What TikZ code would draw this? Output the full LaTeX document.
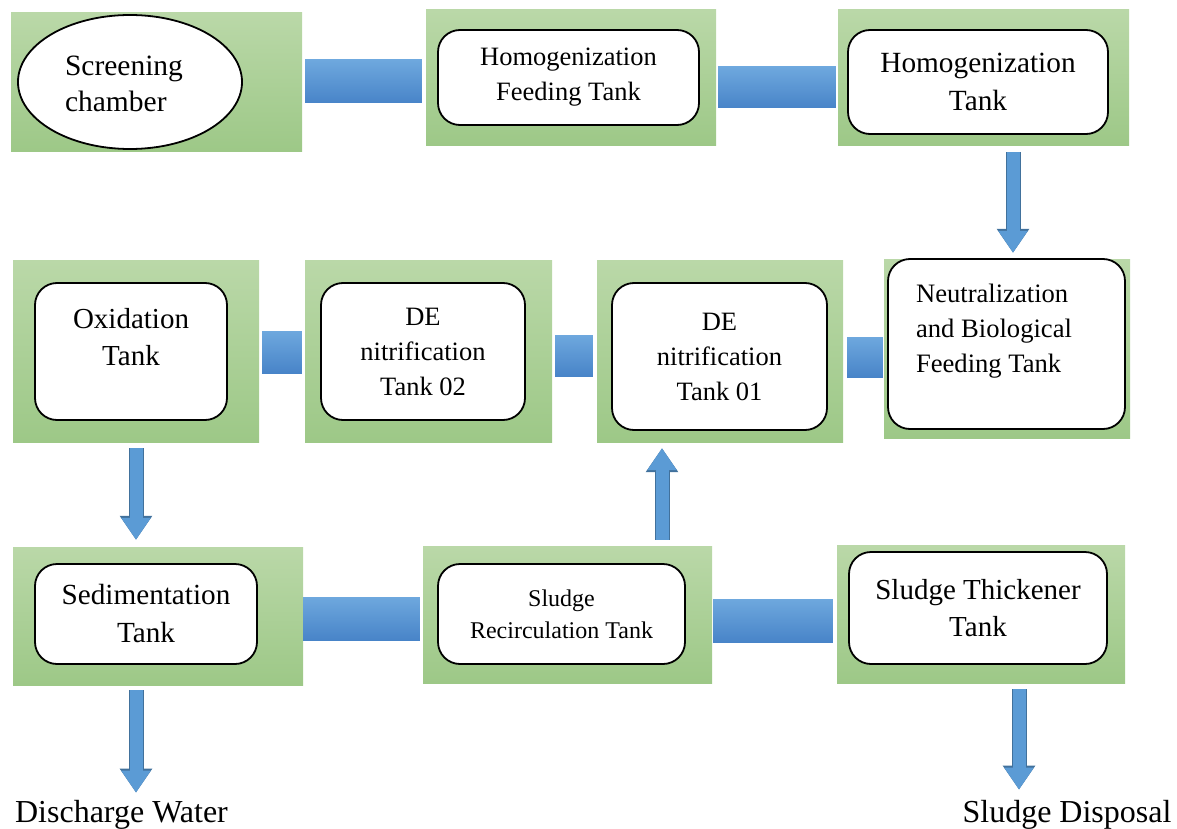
\documentclass[tikz,border=0pt]{standalone}
\usepackage{fontspec}
\setmainfont{Liberation Serif}
\usetikzlibrary{shapes.geometric,arrows.meta}

\definecolor{bedtop}{RGB}{186,216,168}
\definecolor{bedbot}{RGB}{157,200,135}
\definecolor{pipetop}{RGB}{110,168,222}
\definecolor{pipebot}{RGB}{72,132,200}
\definecolor{pipefill}{RGB}{91,155,213}
\definecolor{pipeedge}{RGB}{65,113,156}

\tikzset{
  bed/.style={rectangle, inner sep=0pt, top color=bedtop, bottom color=bedbot},
  tank/.style={rectangle, rounded corners=22pt, draw=black, line width=1.8pt,
    fill=white, inner sep=0pt, align=center},
  flowbar/.style={top color=pipetop, bottom color=pipebot},
  flowdown/.style={line width=13pt, draw=pipefill,
    -{Triangle[width=28pt,length=22pt]},
    preaction={draw=pipeedge, line width=15pt, -{Triangle[width=31pt,length=24pt]}}},
  outlet/.style={inner sep=0pt, anchor=base, font=\fontsize{32}{38}\selectfont},
}

\begin{document}
\begin{tikzpicture}[x=1pt, y=-1pt]
  \useasboundingbox (0,0) rectangle (1177,829);

  % green beds
  \node[bed, minimum width=291, minimum height=139] (screen-bed)  at (156.5,82.5) {};
  \node[bed, minimum width=290, minimum height=136] (homfeed-bed) at (571,78) {};
  \node[bed, minimum width=291, minimum height=136] (homtank-bed) at (983.5,78) {};
  \node[bed, minimum width=246, minimum height=179] (neutral-bed) at (1007,348.5) {};
  \node[bed, minimum width=246, minimum height=182] (denit1-bed)  at (720,351) {};
  \node[bed, minimum width=247, minimum height=182] (denit2-bed)  at (428.5,351) {};
  \node[bed, minimum width=246, minimum height=182] (oxid-bed)    at (136,351) {};
  \node[bed, minimum width=290, minimum height=138] (sedim-bed)   at (158,616) {};
  \node[bed, minimum width=289, minimum height=137] (recirc-bed)  at (567.5,614.5) {};
  \node[bed, minimum width=288, minimum height=138] (thick-bed)   at (981,614) {};

  % tanks
  \node[ellipse, draw=black, line width=1.8pt, fill=white, inner sep=0pt,
    minimum width=224, minimum height=134] (screen) at (130,82) {};
  \node[align=left, inner sep=0pt, font=\fontsize{29.5}{36}\selectfont]
    (screen-txt) at (124,84) {Screening\\chamber};
  \node[tank, minimum width=261, minimum height=95, font=\fontsize{26.5}{35}\selectfont]
    (homfeed) at (568.5,77.5) {Homogenization\\Feeding Tank};
  \node[tank, minimum width=260, minimum height=104, font=\fontsize{29.3}{38}\selectfont]
    (homtank) at (978,82) {Homogenization\\Tank};
  \node[tank, minimum width=237, minimum height=170] (neutral) at (1006.5,344) {};
  \node[align=left, inner sep=0pt, font=\fontsize{26.6}{35}\selectfont]
    (neutral-txt) at (994,331) {Neutralization\\and Biological\\Feeding Tank};
  \node[tank, minimum width=215, minimum height=147, font=\fontsize{26.5}{35}\selectfont]
    (denit1) at (719.5,356.5) {DE\\nitrification\\Tank 01};
  \node[tank, minimum width=204, minimum height=137, font=\fontsize{26.5}{35}\selectfont]
    (denit2) at (423,351.5) {DE\\nitrification\\Tank 02};
  \node[tank, minimum width=192, minimum height=137] (oxid) at (131,351.5) {};
  \node[align=center, inner sep=0pt, font=\fontsize{29}{37}\selectfont]
    (oxid-txt) at (131,337) {Oxidation\\Tank};
  \node[tank, minimum width=222, minimum height=100, font=\fontsize{29.2}{38}\selectfont]
    (sedim) at (146,614) {Sedimentation\\Tank};
  \node[tank, minimum width=247, minimum height=100, font=\fontsize{24}{32}\selectfont]
    (recirc) at (561.5,614) {Sludge\\Recirculation Tank};
  \node[tank, minimum width=258, minimum height=112, font=\fontsize{29}{37}\selectfont]
    (thick) at (978,608) {Sludge Thickener\\Tank};

  % outlets
  \node[outlet] (discharge) at (121.5,822) {Discharge Water};
  \node[outlet] (disposal)  at (1067,822) {Sludge Disposal};

  % horizontal flow bars
  \shade[flowbar] ([xshift=3pt]screen-bed.east |- 0,60) rectangle ([xshift=-4pt]homfeed-bed.west |- 0,103);
  \shade[flowbar] ([xshift=2pt]homfeed-bed.east |- 0,67) rectangle ([xshift=-2pt]homtank-bed.west |- 0,108);
  \shade[flowbar] ([xshift=4pt]denit1-bed.east |- 0,337) rectangle ([xshift=-1pt]neutral-bed.west |- 0,377);
  \shade[flowbar] ([xshift=3pt]denit2-bed.east |- 0,335) rectangle ([xshift=-4pt]denit1-bed.west |- 0,376);
  \shade[flowbar] ([xshift=3pt]oxid-bed.east |- 0,331) rectangle ([xshift=-3pt]denit2-bed.west |- 0,373);
  \shade[flowbar] (sedim-bed.east |- 0,597) rectangle ([xshift=-3pt]recirc-bed.west |- 0,640);
  \shade[flowbar] ([xshift=1pt]recirc-bed.east |- 0,599) rectangle ([xshift=-4pt]thick-bed.west |- 0,642);

  % vertical flow arrows
  \draw[flowdown, shorten <=6pt, shorten >=6pt]
    (1013,0 |- homtank-bed.south) -- (1013,0 |- neutral-bed.north);
  \draw[flowdown, shorten <=6pt, shorten >=7pt]
    (136,0 |- oxid-bed.south) -- (136,0 |- sedim-bed.north);
  \draw[flowdown, shorten <=6pt, shorten >=6pt]
    (662,0 |- recirc-bed.north) -- (662,0 |- denit1-bed.south);
  \draw[flowdown, shorten <=5pt, shorten >=7pt]
    (136,0 |- sedim-bed.south) -- (136,0 |- discharge.north);
  \draw[flowdown, shorten <=6pt, shorten >=10pt]
    (1019,0 |- thick-bed.south) -- (1019,0 |- disposal.north);
\end{tikzpicture}
\end{document}
